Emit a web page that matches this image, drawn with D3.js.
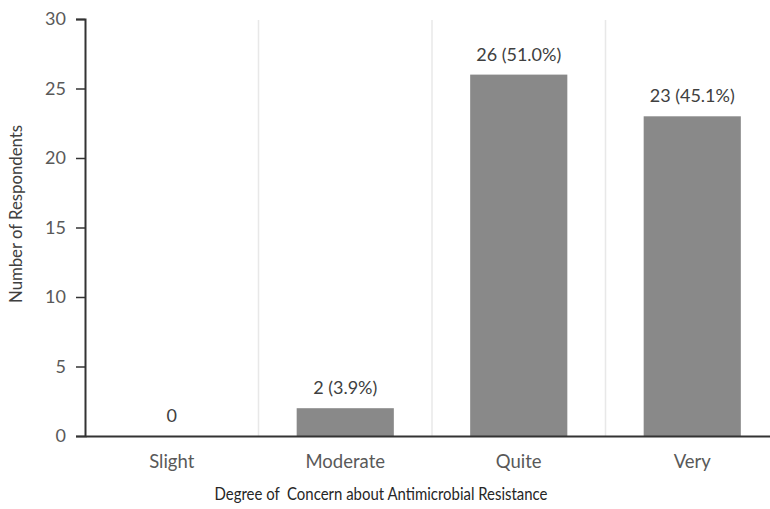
<!DOCTYPE html>
<html>
<head>
<meta charset="utf-8">
<script src="https://cdn.jsdelivr.net/npm/d3@7"></script>
<style>
body { margin: 0; background: #fff; }
text { font-family: Lato, "Liberation Sans", sans-serif; }
</style>
</head>
<body>
<div id="container"></div>
<script>
var categories = ["Slight", "Moderate", "Quite", "Very"];
var counts = [0, 2, 26, 23];
var barLabels = ["0", "2 (3.9%)", "26 (51.0%)", "23 (45.1%)"];
var yTicks = [0, 5, 10, 15, 20, 25, 30];

var width = 770, height = 509;
var plotLeft = 85, plotTop = 19, plotBottom = 436;

var svg = d3.select("#container").append("svg")
			.attr("width", width)
			.attr("height", height);

var x = d3.scaleBand().domain(categories)
			.range([plotLeft, plotLeft + 4 * 173.5])
			.paddingInner(0.44)
			.paddingOuter(0.22);
var y = d3.scaleLinear().domain([0, 30]).range([plotBottom, plotTop]);
var step = x.step();

// light separators between categories
svg.selectAll("line.sep").data(categories.slice(1))
	.enter().append("line")
	.attr("class", "sep")
	.attr("x1", function(d) { return x(d) - step * 0.22; })
	.attr("x2", function(d) { return x(d) - step * 0.22; })
	.attr("y1", 20).attr("y2", plotBottom)
	.attr("stroke", "#e8e8e8").attr("stroke-width", 1.5);

svg.selectAll("rect.bar").data(counts)
	.enter().append("rect")
	.attr("class", "bar")
	.attr("x", function(d, i) { return x(categories[i]); })
	.attr("y", function(d) { return y(d); })
	.attr("width", x.bandwidth())
	.attr("height", function(d) { return plotBottom - y(d); })
	.attr("fill", "#898989");

svg.selectAll("text.lbl").data(counts)
	.enter().append("text")
	.attr("class", "lbl")
	.attr("x", function(d, i) { return x(categories[i]) + x.bandwidth() / 2; })
	.attr("y", function(d) { return y(d) - 14; })
	.attr("text-anchor", "middle")
	.attr("font-size", 18)
	.attr("fill", "#404040")
	.text(function(d, i) { return barLabels[i]; });

// y axis
var yAxis = svg.append("g").attr("transform", "translate(" + plotLeft + ",0)")
	.call(d3.axisLeft(y).tickValues(yTicks).tickSize(9).tickPadding(10));
yAxis.select(".domain").attr("stroke", "#333").attr("stroke-width", 2);
yAxis.selectAll(".tick line").attr("stroke", "#333").attr("stroke-width", 1.5);
yAxis.selectAll(".tick text").attr("font-size", 18).attr("fill", "#595959")
	.style("font-family", "Lato, 'Liberation Sans', sans-serif");

// x axis
var xAxis = svg.append("g").attr("transform", "translate(0," + plotBottom + ")")
	.call(d3.axisBottom(x).tickSize(0).tickPadding(19));
xAxis.select(".domain").attr("stroke", "#333").attr("stroke-width", 2);
xAxis.selectAll(".tick text").attr("font-size", 18.5).attr("fill", "#595959")
	.style("font-family", "Lato, 'Liberation Sans', sans-serif");

// titles squeezed a bit to mimic the narrow original face
svg.append("text")
	.attr("x", 381).attr("y", 500)
	.attr("text-anchor", "middle")
	.attr("font-size", 17.5)
	.attr("fill", "#262626")
	.attr("textLength", 333)
	.attr("lengthAdjust", "spacingAndGlyphs")
	.style("white-space", "pre")
	.text("Degree of  Concern about Antimicrobial Resistance");

svg.append("text")
	.attr("transform", "translate(22,214) rotate(-90)")
	.attr("text-anchor", "middle")
	.attr("font-size", 17.5)
	.attr("fill", "#404040")
	.attr("textLength", 178)
	.attr("lengthAdjust", "spacingAndGlyphs")
	.text("Number of Respondents");
</script>
</body>
</html>
